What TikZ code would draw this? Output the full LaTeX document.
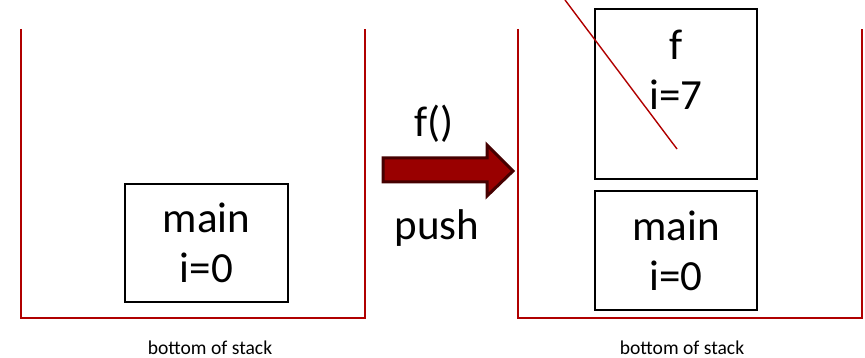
\documentclass[tikz,border=0pt]{standalone}
\usepackage{fontspec}
\setmainfont{Carlito}
\begin{document}
\begin{tikzpicture}[x=1pt,y=-1pt,
  stackwall/.style={draw={rgb,255:red,176;green,0;blue,0},line width=1.6pt},
  frame/.style={draw=black,line width=1.2pt,inner sep=0pt},
  big/.style={font=\fontsize{43}{50}\selectfont,align=center,inner sep=0pt},
  caption/.style={font=\fontsize{19.6}{22}\selectfont,inner sep=0pt},
  pusharrow/.style={fill={rgb,255:red,153;green,0;blue,0},draw={rgb,255:red,70;green,0;blue,0},line width=3pt,line join=miter}]
\useasboundingbox (0,0) rectangle (865,358);

% left stack (before the call)
\coordinate (L1) at (21,29);
\coordinate (L2) at (21,318);
\coordinate (L3) at (365,318);
\coordinate (L4) at (365,29);
\draw[stackwall] (L1) -- (L2) -- (L3) -- (L4);
\node[frame,minimum width=163pt,minimum height=118pt] (mainA) at (206.5,243) {};
\node[big] (mainAtext) at (mainA.center) {main\\i=0};
\node[caption] (capA) at (210,348) {bottom of stack};

% push arrow between the stacks
\draw[pusharrow] (383,158) -- (487,158) -- (487,145) -- (513,171) -- (487,196) -- (487,182) -- (383,182) -- cycle;
\node[big] (call) at (434,124) {f()};
\node[big] (push) at (437,228) {push};

% right stack (after the call)
\coordinate (R1) at (518,29);
\coordinate (R2) at (518,318);
\coordinate (R3) at (862,318);
\coordinate (R4) at (862,29);
\draw[stackwall] (R1) -- (R2) -- (R3) -- (R4);
\node[frame,minimum width=162pt,minimum height=119pt] (mainB) at (676,250.5) {};
\node[big] (mainBtext) at (mainB.center) {main\\i=0};
\node[frame,minimum width=162pt,minimum height=170pt] (fbox) at (676,94) {};
\node[big] (ftext) at (676,70) {f\\i=7};
\node[caption] (capB) at (682,348) {bottom of stack};

% pointer into the new frame
\coordinate (p0) at (565,0);
\coordinate (p1) at (677,149);
\draw[stackwall,line width=1.4pt] (p0) -- (p1);
\end{tikzpicture}
\end{document}
